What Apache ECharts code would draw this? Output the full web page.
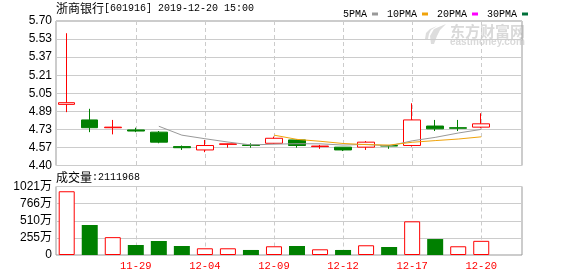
<!DOCTYPE html>
<html><head><meta charset="utf-8">
<script src="https://cdn.jsdelivr.net/npm/echarts@6/dist/echarts.min.js"></script>
<style>html,body{margin:0;padding:0;background:#fff}#c{width:578px;height:276px}</style>
</head><body><div id="c"></div>
<script>
// ---- data ----
const dates  = ['11-26','11-27','11-28','11-29','12-02','12-03','12-04','12-05','12-06','12-09','12-10','12-11','12-12','12-13','12-16','12-17','12-18','12-19','12-20'];
const opens  = [4.95,4.81,4.74,4.72,4.70,4.57,4.54,4.59,4.585,4.60,4.63,4.57,4.565,4.565,4.58,4.58,4.755,4.74,4.745];
const closes = [4.965,4.74,4.745,4.71,4.61,4.56,4.58,4.595,4.58,4.645,4.58,4.575,4.54,4.61,4.575,4.81,4.73,4.735,4.775];
const lows   = [4.88,4.70,4.68,4.70,4.60,4.54,4.52,4.56,4.56,4.595,4.56,4.55,4.53,4.54,4.55,4.57,4.71,4.71,4.735];
const highs  = [5.59,4.91,4.81,4.74,4.71,4.58,4.63,4.597,4.60,4.66,4.635,4.585,4.565,4.62,4.58,4.96,4.81,4.81,4.87];
const ma5    = [null,null,null,null,4.753,4.673,4.641,4.611,4.585,4.592,4.596,4.595,4.584,4.590,4.576,4.622,4.653,4.692,4.725];
const ma10   = [null,null,null,null,null,null,null,null,null,4.673,4.635,4.618,4.598,4.588,4.584,4.609,4.624,4.638,4.658];
const vols   = [950,447,266,149,209,134,100,100,75,130,134,85,75,145,119,502,238,130,211.1968]; // 万
const volDir = [1,-1,1,-1,-1,-1,1,1,-1,1,-1,1,-1,1,-1,1,-1,1,1];
const priceTicks = ['4.40','4.57','4.73','4.89','5.05','5.21','5.37','5.53','5.70'];
const volTicks   = ['0','255万','510万','766万','1021万'];
const dateTickIdx = [3,6,9,12,15,18];
const maNames = ['5PMA','10PMA','20PMA','30PMA'];
const maColors = ['#999999','#f0a30a','#ff00ff','#00703a'];

// ---- layout ----
const X_MIN = -0.465, X_MAX = 19.77;
const P_MIN = 4.40, P_MAX = 5.70, P_INT = 0.1625;
const V_MAX = 1021, V_INT = 255.25;
const RED = '#ff0000', GREEN = '#008000';
const labelFont = 'Liberation Sans, Arial, Noto Sans CJK SC, sans-serif';

const chart = echarts.init(document.getElementById('c'), null, {renderer:'canvas'});

function xAxisCfg(gi, showLabel){
  return {
    type:'value', gridIndex:gi, min:X_MIN, max:X_MAX,
    axisLine:{show:false},
    axisTick:{show:false, customValues:dateTickIdx},
    axisLabel:{show:showLabel, customValues:dateTickIdx, formatter:v=>dates[Math.round(v)]||'',
      color:RED, fontFamily:'Liberation Mono, monospace', fontSize:10.5, margin:6},
    splitLine:{show:true, lineStyle:{color:'#cccccc', width:1, type:[4,3]}}
  };
}

const option = {
  animation:false,
  backgroundColor:'#ffffff',
  legend:{
    left:338, top:4, itemWidth:6, itemHeight:3, itemGap:9, icon:'rect', align:'right',
    textStyle:{fontFamily:'Liberation Mono, monospace', fontSize:10, color:'#000'},
    data:maNames
  },
  grid:[
    {left:56, top:21, width:466, height:144.5, show:true, borderColor:'#999', borderWidth:1},
    {left:56, top:186.5, width:466, height:68.5, show:true, borderColor:'#999', borderWidth:1}
  ],
  xAxis:[xAxisCfg(0,false), xAxisCfg(1,true)],
  yAxis:[
    {type:'value', gridIndex:0, min:P_MIN, max:P_MAX, interval:P_INT,
     axisLine:{show:false}, axisTick:{show:false},
     axisLabel:{formatter:v=>priceTicks[Math.round((v-P_MIN)/P_INT)]||'', color:'#000',
       fontFamily:labelFont, fontSize:12, margin:4},
     splitLine:{lineStyle:{color:'#cccccc', width:1}}},
    {type:'value', gridIndex:1, min:0, max:V_MAX, interval:V_INT,
     axisLine:{show:false}, axisTick:{show:false},
     axisLabel:{formatter:v=>volTicks[Math.round(v/V_INT)]||'', color:'#000',
       fontFamily:labelFont, fontSize:12, margin:4},
     splitLine:{lineStyle:{color:'#cccccc', width:1}}}
  ],
  series:[
    {type:'candlestick', xAxisIndex:0, yAxisIndex:0, barWidth:17,
     data:dates.map((d,i)=>[i, opens[i], closes[i], lows[i], highs[i]]),
     itemStyle:{color:'#ffffff', color0:GREEN, borderColor:RED, borderColor0:GREEN, borderWidth:1}},
    {name:maNames[0], type:'line', xAxisIndex:0, yAxisIndex:0, symbol:'none',
     data:ma5.map((v,i)=>[i,v]).filter(p=>p[1]!=null),
     lineStyle:{color:maColors[0], width:1}, itemStyle:{color:maColors[0]}},
    {name:maNames[1], type:'line', xAxisIndex:0, yAxisIndex:0, symbol:'none',
     data:ma10.map((v,i)=>[i,v]).filter(p=>p[1]!=null),
     lineStyle:{color:maColors[1], width:1}, itemStyle:{color:maColors[1]}},
    {name:maNames[2], type:'line', xAxisIndex:0, yAxisIndex:0, symbol:'none', data:[],
     lineStyle:{color:maColors[2], width:1}, itemStyle:{color:maColors[2]}},
    {name:maNames[3], type:'line', xAxisIndex:0, yAxisIndex:0, symbol:'none', data:[],
     lineStyle:{color:maColors[3], width:1}, itemStyle:{color:maColors[3]}},
    {type:'bar', xAxisIndex:1, yAxisIndex:1, barWidth:16,
     data:vols.map((v,i)=>({value:[i,v], itemStyle: volDir[i]>0
        ? {color:'#ffffff', borderColor:RED, borderWidth:1}
        : {color:GREEN, borderColor:GREEN, borderWidth:0}}))}
  ],
  graphic:[
    {type:'polygon', z:-1, shape:{points:[[431,44],[430,36],[434,29],[446,24],[440,30],[437,36],[434,44]]}, style:{fill:'#dddddd'}},
    {type:'polygon', z:-1, shape:{points:[[425,39],[426,33],[430,29],[437,26],[431,30],[429,34],[428,39]]}, style:{fill:'#dddddd'}},
    {type:'text', z:-1, x:450, y:24, style:{text:'东方财富网', font:'bold 15px "Noto Sans CJK SC"', fill:'#d9d9d9'}},
    {type:'text', z:-1, x:450, y:37, style:{text:'eastmoney.com', font:'bold 10px "Liberation Sans"', fill:'#d9d9d9'}},
    {type:'text', x:56, y:8, style:{text:'{a|浙商银行}{b|[601916] 2019-12-20 15:00}', verticalAlign:'middle',
      rich:{a:{fontFamily:'Noto Sans CJK SC', fontSize:12, fill:'#000'}, b:{fontFamily:'Liberation Mono', fontSize:10, fill:'#000'}}}},
    {type:'text', x:56, y:177, style:{text:'{a|成交量}{b|:' + Math.round(vols[vols.length-1]*10000) + '}', verticalAlign:'middle',
      rich:{a:{fontFamily:'Noto Sans CJK SC', fontSize:12, fill:'#000'}, b:{fontFamily:'Liberation Mono', fontSize:10, fill:'#000'}}}}
  ]
};
chart.setOption(option);
</script></body></html>
